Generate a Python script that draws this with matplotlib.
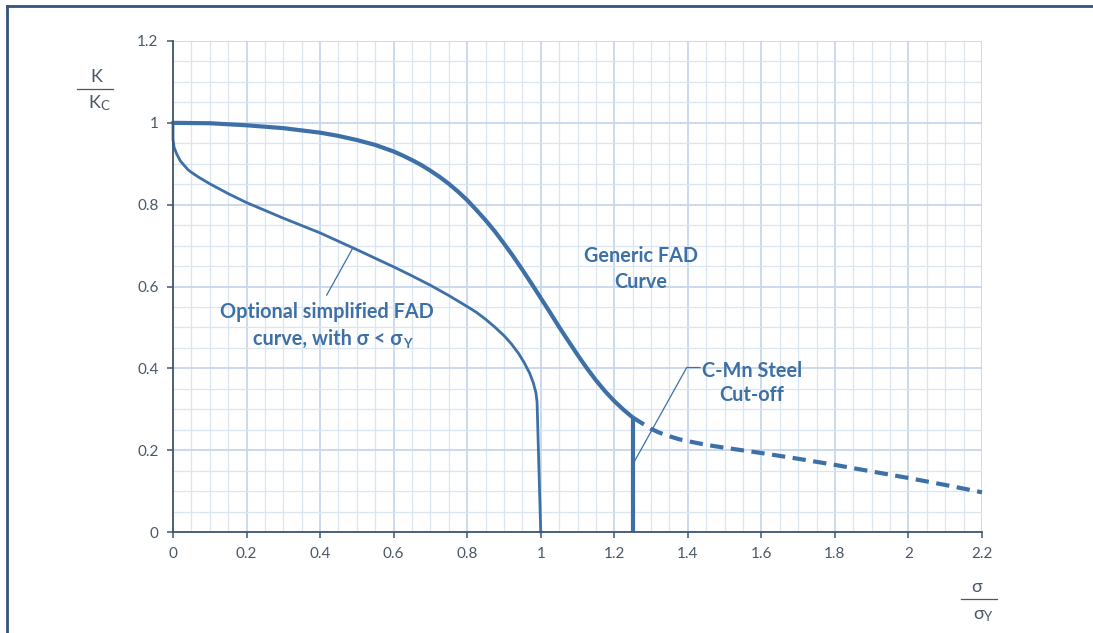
import matplotlib
matplotlib.use("Agg")
import matplotlib.pyplot as plt
from matplotlib.lines import Line2D
from matplotlib.ticker import MultipleLocator

# ---- data -------------------------------------------------------------
# Generic FAD curve: K/Kc against sigma/sigma_Y
generic_x = [0.0, 0.1, 0.2, 0.3, 0.4, 0.45, 0.5, 0.55, 0.6, 0.625, 0.65,
             0.675, 0.7, 0.725, 0.75, 0.775, 0.8, 0.825, 0.85, 0.875, 0.9,
             0.925, 0.95, 0.975, 1.0, 1.025, 1.05, 1.075, 1.1, 1.125, 1.15,
             1.175, 1.2, 1.225, 1.25, 1.3, 1.325, 1.35, 1.375, 1.4, 1.45,
             1.5, 1.6, 1.7, 1.8, 1.9, 2.0, 2.1, 2.2]
generic_y = [1.000, 0.999, 0.994, 0.987, 0.976, 0.968, 0.958, 0.946, 0.930,
             0.920, 0.909, 0.897, 0.883, 0.868, 0.851, 0.832, 0.811, 0.787,
             0.762, 0.735, 0.705, 0.674, 0.641, 0.607, 0.572, 0.537, 0.501,
             0.467, 0.433, 0.401, 0.371, 0.344, 0.320, 0.299, 0.280, 0.252,
             0.242, 0.234, 0.227, 0.222, 0.213, 0.206, 0.193, 0.179, 0.164,
             0.148, 0.132, 0.115, 0.097]

# C-Mn steel cut-off position
cutoff_x = 1.25

# Optional simplified FAD curve (sigma < sigma_Y)
simplified_x = [0.0, 0.0, 0.003, 0.01, 0.02, 0.04, 0.05, 0.07, 0.1, 0.15,
                0.2, 0.3, 0.4, 0.5, 0.6, 0.65, 0.7, 0.75, 0.8, 0.825, 0.85,
                0.875, 0.9, 0.92, 0.94, 0.955, 0.97, 0.98, 0.987, 0.99, 1.0]
simplified_y = [1.000, 0.960, 0.940, 0.924, 0.907, 0.886, 0.879, 0.867,
                0.851, 0.827, 0.805, 0.767, 0.731, 0.690, 0.648, 0.626,
                0.603, 0.578, 0.551, 0.537, 0.520, 0.501, 0.480, 0.460,
                0.436, 0.414, 0.388, 0.364, 0.340, 0.318, 0.0]

x_ticks = [0, 0.2, 0.4, 0.6, 0.8, 1.0, 1.2, 1.4, 1.6, 1.8, 2.0, 2.2]
x_tick_labels = ["0", "0.2", "0.4", "0.6", "0.8", "1", "1.2", "1.4",
                 "1.6", "1.8", "2", "2.2"]
y_ticks = [0, 0.2, 0.4, 0.6, 0.8, 1.0, 1.2]
y_tick_labels = ["0", "0.2", "0.4", "0.6", "0.8", "1", "1.2"]

# ---- style ------------------------------------------------------------
CURVE = "#3d70a6"
AXIS = "#3e5670"
TICKTXT = "#4a5766"
FRAME = "#34557a"
GRID_MINOR = "#dae5f1"
GRID_MAJOR = "#c6d7ea"
FAMILY = ["Lato", "DejaVu Sans"]
plt.rcParams["font.family"] = FAMILY

W, H = 1093, 633
fig = plt.figure(figsize=(W / 100, H / 100), dpi=100)
ax = fig.add_axes([173 / W, 1 - 532 / H, (982 - 173) / W, (532 - 41) / H])

ax.set_xlim(0, 2.2)
ax.set_ylim(0, 1.2)
ax.xaxis.set_minor_locator(MultipleLocator(0.05))
ax.yaxis.set_minor_locator(MultipleLocator(0.05))
ax.set_xticks(x_ticks, labels=x_tick_labels)
ax.set_yticks(y_ticks, labels=y_tick_labels)
ax.grid(which="minor", color=GRID_MINOR, lw=0.9)
ax.grid(which="major", color=GRID_MAJOR, lw=1.3)
ax.set_axisbelow(True)
for side in ("top", "right"):
    ax.spines[side].set_visible(False)
for side in ("left", "bottom"):
    ax.spines[side].set_color(AXIS)
    ax.spines[side].set_linewidth(1.3)
ax.tick_params(which="major", direction="out", length=4.5, width=1.1,
               color=AXIS, labelcolor=TICKTXT, labelsize=11, pad=6)
ax.tick_params(which="minor", length=0)

# ---- curves -----------------------------------------------------------
solid = [(x, y) for x, y in zip(generic_x, generic_y) if x <= cutoff_x]
dashed = [(x, y) for x, y in zip(generic_x, generic_y) if x >= cutoff_x]
ax.plot([p[0] for p in solid], [p[1] for p in solid], color=CURVE, lw=3.0,
        solid_capstyle="round", solid_joinstyle="round", clip_on=False)
ax.plot([p[0] for p in dashed], [p[1] for p in dashed], color=CURVE, lw=3.0,
        dashes=(3.2, 1.8), dash_capstyle="butt", dash_joinstyle="round",
        clip_on=False)
cut_y = generic_y[generic_x.index(cutoff_x)]
ax.plot([cutoff_x, cutoff_x], [0, cut_y], color=CURVE, lw=3.0,
        solid_capstyle="butt")
ax.plot(simplified_x, simplified_y, color=CURVE, lw=2.0,
        solid_joinstyle="round", clip_on=False)

# ---- annotations ------------------------------------------------------
lab = dict(color=CURVE, fontsize=14.3, fontweight="bold", family=FAMILY)
ax.text(1.2714, 0.661, "Generic FAD", ha="center", va="baseline", **lab)
ax.text(1.2714, 0.596, "Curve", ha="center", va="baseline", **lab)
ax.text(1.574, 0.380, "C-Mn Steel", ha="center", va="baseline", **lab)
ax.text(1.574, 0.319, "Cut-off", ha="center", va="baseline", **lab)
ax.text(0.419, 0.522, "Optional simplified FAD", ha="center",
        va="baseline", **lab)
t2 = ax.text(0.6245, 0.457, "curve, with σ < σ", ha="right",
             va="baseline", **lab)
ax.annotate("Y", xy=(1, 0), xycoords=t2, xytext=(0.3, 0.8),
            textcoords="offset points", ha="left", va="baseline",
            color=CURVE, fontsize=9.5, fontweight="bold", family=FAMILY)

ax.plot([0.489, 0.418], [0.694, 0.579], color=CURVE, lw=0.9)
ax.plot([1.252, 1.397, 1.433], [0.168, 0.402, 0.402], color=CURVE, lw=0.9)

# ---- axis titles as fractions ----------------------------------------
def fx(px):
    return px / W


def fy(py):
    return 1 - py / H


tt = dict(color=TICKTXT, family=FAMILY)
fig.text(fx(96.7), fy(76.5), "K", ha="center", va="center", fontsize=13,
         **tt)
fig.add_artist(Line2D([fx(77), fx(113)], [fy(89), fy(89)], color=TICKTXT,
                      lw=0.9))
fig.text(fx(100), fy(108.5), "K", ha="right", va="baseline", fontsize=13,
         **tt)
fig.text(fx(100.3), fy(110.5), "C", ha="left", va="baseline", fontsize=9.5,
         **tt)

fig.text(fx(976.5), fy(586.5), "σ", ha="center", va="center", fontsize=13,
         **tt)
fig.add_artist(Line2D([fx(961), fx(997)], [fy(599), fy(599)], color=TICKTXT,
                      lw=0.9))
fig.text(fx(984), fy(619), "σ", ha="right", va="baseline", fontsize=13, **tt)
fig.text(fx(984.3), fy(621), "Y", ha="left", va="baseline", fontsize=9.5,
         **tt)

# outer frame (left and top edges)
fig.add_artist(Line2D([fx(7), fx(7)], [0, fy(6)], color=FRAME, lw=2.0))
fig.add_artist(Line2D([fx(7), 1.0], [fy(6), fy(6)], color=FRAME, lw=2.0))

fig.savefig("out.png", dpi=100)
